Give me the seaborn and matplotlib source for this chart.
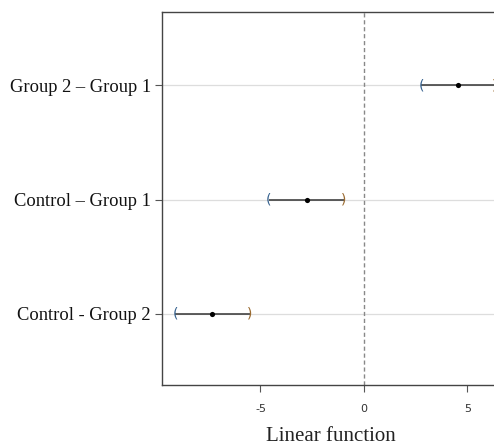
import numpy as np
import pandas as pd
import matplotlib
matplotlib.use("Agg")
import matplotlib.pyplot as plt
import seaborn as sns

# contrast estimates with interval bounds
contrasts = ["Group 2 \u2013 Group 1", "Control \u2013 Group 1", "Control - Group 2"]
estimate = [4.56, -2.77, -7.33]
lower = [2.77, -4.61, -9.13]
upper = [6.30, -0.97, -5.53]
xticks = [-5, 0, 5]

df = pd.DataFrame({"contrast": contrasts, "estimate": estimate,
                   "lower": lower, "upper": upper})

sns.set_style("white")
plt.rcParams["font.family"] = ["DejaVu Sans"]

fig = plt.figure(figsize=(4.94, 4.46), dpi=100)
ax = fig.add_axes([0.328, 0.137, 0.685, 0.836])

ypos = np.arange(len(df))

# horizontal reference lines through each contrast
for y in ypos:
    ax.axhline(y, color="#dddddd", lw=0.9, zorder=0)
ax.axvline(0, color="#888888", lw=1.0, ls=(0, (3, 2)), zorder=1)

# intervals
ax.hlines(ypos, df["lower"], df["upper"], color="#333333", lw=1.1, zorder=2)
for y, lo, hi in zip(ypos, df["lower"], df["upper"]):
    ax.text(lo, y, "(", ha="center", va="center", fontsize=10,
            color="#35618f", family="DejaVu Sans", zorder=3, clip_on=True)
    ax.text(hi, y, ")", ha="center", va="center", fontsize=10,
            color="#9a6a30", family="DejaVu Sans", zorder=3, clip_on=True)

sns.scatterplot(data=df, x="estimate", y=ypos, color="black", s=14,
                edgecolor="black", linewidth=0, zorder=4, ax=ax)

ax.set_xlim(-9.76, 6.6)
ax.set_ylim(2.62, -0.64)
ax.set_yticks(ypos)
ax.set_yticklabels(df["contrast"], family="Liberation Serif", fontsize=13.3,
                   color="#111111")
ax.set_xticks(xticks)
ax.set_xticklabels([str(t) for t in xticks], fontsize=8, color="#333333")
ax.tick_params(axis="both", direction="out", length=5, width=0.8,
               color="#555555", left=True, bottom=True)
ax.tick_params(axis="x", pad=9)
ax.tick_params(axis="y", pad=3)

ax.set_xlabel("Linear function", family="Liberation Serif", fontsize=15,
              color="#222222", labelpad=9)
ax.set_ylabel("")

for side in ["left", "bottom", "top", "right"]:
    ax.spines[side].set_color("#444444")
    ax.spines[side].set_linewidth(1.0)

fig.savefig("out.png", dpi=100)
